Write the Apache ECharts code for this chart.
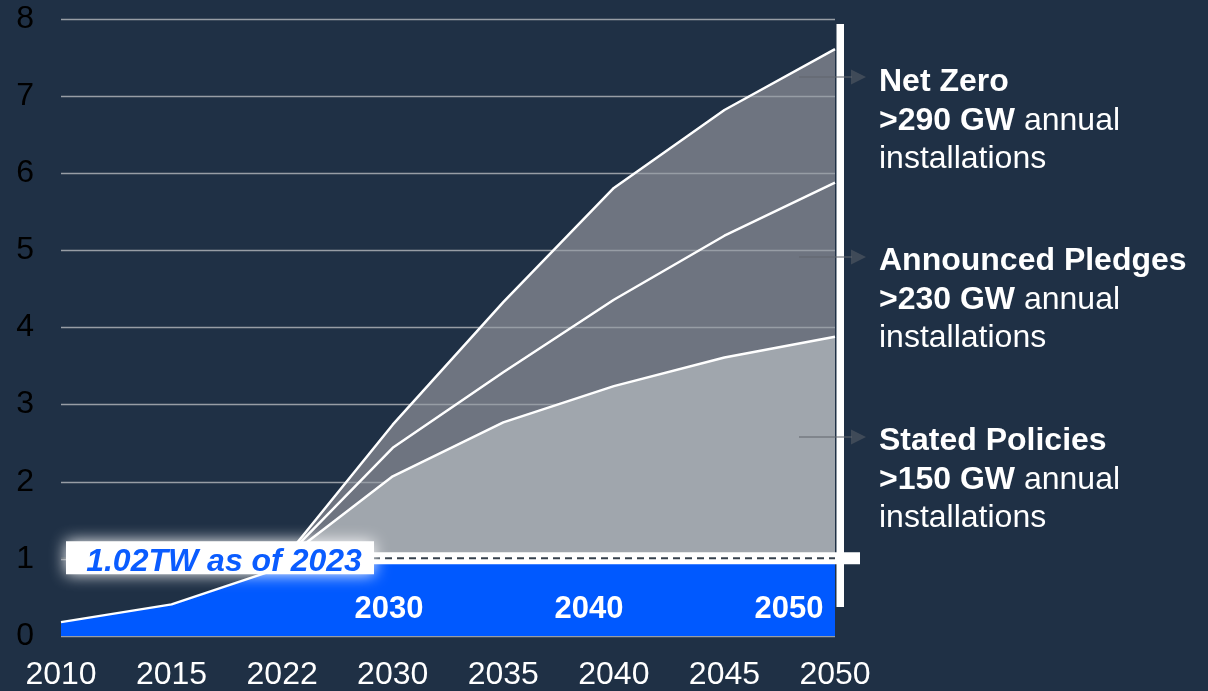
<!DOCTYPE html>
<html>
<head>
<meta charset="utf-8">
<title>Solar PV capacity scenarios</title>
<script src="https://cdn.jsdelivr.net/npm/echarts@6/dist/echarts.min.js"></script>
<style>
  html, body { margin: 0; padding: 0; background: #1f3045; }
  #chart { width: 1208px; height: 691px; }
</style>
</head>
<body>
<div id="chart"></div>
<script>
// Cumulative installed capacity (TW) by year
const years = ['2010', '2015', '2022', '2030', '2035', '2040', '2045', '2050'];
const installed = [0.18, 0.41, 0.89, 1.02, 1.02, 1.02, 1.02, 1.02];
const statedPolicies = [null, null, 0.97, 2.07, 2.77, 3.24, 3.61, 3.88];
const announcedPledges = [null, null, 0.97, 2.44, 3.42, 4.36, 5.19, 5.88];
const netZero = [null, null, 0.97, 2.74, 4.33, 5.81, 6.82, 7.61];

// Current capacity marker
const currentCapacity = 1.02;
const currentLabel = '1.02TW as of 2023';

// Milestone labels inside the installed band
const milestones = ['2030', '2040', '2050'];

// Scenario annotations (top to bottom)
const scenarioNames = ['Net Zero', 'Announced Pledges', 'Stated Policies'];
const scenarioGW = ['>290 GW', '>230 GW', '>150 GW'];

const FONT = '"Liberation Sans", Arial, Helvetica, sans-serif';
const BG = '#1f3045';
const DARK_GREY = '#6e7480';
const LIGHT_GREY = '#a0a6ad';
const BLUE = '#0059ff';

const chart = echarts.init(document.getElementById('chart'), null, { renderer: 'canvas' });

function areaSeries(name, data, color, z) {
  return {
    name, type: 'line', data, z, silent: true,
    showSymbol: false, symbol: 'none',
    lineStyle: { width: 0 },
    areaStyle: { color, opacity: 1 },
    animation: false
  };
}
function lineSeries(name, data, z) {
  return {
    name, type: 'line', data, z, silent: true,
    showSymbol: false, symbol: 'none',
    lineStyle: { color: '#ffffff', width: 2.5 },
    animation: false
  };
}

const option = {
  backgroundColor: BG,
  animation: false,
  grid: { left: 61, right: 373, top: 19, bottom: 54, containLabel: false },
  xAxis: {
    type: 'category', data: years, boundaryGap: false,
    axisLine: { show: false }, axisTick: { show: false },
    splitLine: { show: false },
    axisLabel: { color: '#ffffff', fontSize: 32, fontFamily: FONT, margin: 23, interval: 0 }
  },
  yAxis: {
    type: 'value', min: 0, max: 8, interval: 1, z: 2,
    axisLine: { show: false }, axisTick: { show: false },
    splitLine: { show: true, lineStyle: { color: '#979da5', width: 1.3 } },
    axisLabel: { color: '#000000', fontSize: 32, fontFamily: FONT, margin: 27 }
  },
  series: [
    areaSeries('Net Zero area', netZero, DARK_GREY, 1),
    areaSeries('Announced Pledges area', announcedPledges, DARK_GREY, 1),
    areaSeries('Stated Policies area', statedPolicies, LIGHT_GREY, 3),
    {
      name: 'Installed', type: 'line', data: installed, z: 4, silent: true,
      showSymbol: false, symbol: 'none',
      lineStyle: { color: '#ffffff', width: 2.5 },
      areaStyle: { color: BLUE, opacity: 1 },
      animation: false
    },
    lineSeries('Net Zero', netZero, 5),
    lineSeries('Announced Pledges', announcedPledges, 5),
    lineSeries('Stated Policies', statedPolicies, 5)
  ]
};

chart.setOption(option);

// Overlays positioned from the chart's own scales
const toPx = (cat, v) => chart.convertToPixel({ gridIndex: 0 }, [cat, v]);
const [xLeft, yNow] = toPx(years[0], currentCapacity);
const [xEnd] = toPx(years[years.length - 1], currentCapacity);
const [, yZero] = toPx(years[0], 0);
const [, yTop] = toPx(years[0], 8);

const boxLeft = xLeft + 5, boxRight = 374;
const graphics = [];

// White vertical bar at the right edge of the plot
graphics.push({
  type: 'rect', z: 100, silent: true,
  shape: { x: xEnd + 1.5, y: yTop + 5, width: 7.5, height: (yZero - 29) - (yTop + 5) },
  style: { fill: '#ffffff' }
});

// White band along the current-capacity level
graphics.push({
  type: 'rect', z: 101, silent: true,
  shape: { x: boxRight - 2, y: yNow - 5, width: (xEnd + 25) - (boxRight - 2), height: 12 },
  style: { fill: '#ffffff' }
});
graphics.push({
  type: 'line', z: 102, silent: true,
  shape: { x1: xLeft, y1: yNow + 1, x2: xEnd, y2: yNow + 1 },
  style: { stroke: '#36414d', lineWidth: 2, lineDash: [7, 5] }
});

// Soft-edged label box for the current capacity
graphics.push({
  type: 'rect', z: 103, silent: true,
  shape: { x: boxLeft, y: yNow - 16, width: boxRight - boxLeft, height: 33 },
  style: { fill: '#ffffff', shadowBlur: 16, shadowColor: 'rgba(255,255,255,1)' }
});
graphics.push({
  type: 'text', z: 104, silent: true,
  x: (boxLeft + boxRight) / 2 + 4, y: yNow + 5,
  style: {
    text: currentLabel, fill: '#0a5cff',
    font: 'italic bold 32px ' + FONT,
    align: 'center', verticalAlign: 'middle'
  }
});

// Milestone labels in the installed band
milestones.forEach((m, i) => {
  graphics.push({
    type: 'text', z: 104, silent: true,
    x: 389 + i * 200, y: 609,
    style: {
      text: m, fill: '#ffffff', font: 'bold 31px ' + FONT,
      align: 'center', verticalAlign: 'middle'
    }
  });
});

// Scenario annotations with pointer arrows
const arrowY = [77, 257, 437];
const textTop = [63, 242, 422];
scenarioNames.forEach((name, i) => {
  const y = arrowY[i];
  graphics.push({
    type: 'line', z: 105, silent: true,
    shape: { x1: 799, y1: y, x2: 852, y2: y },
    style: { stroke: 'rgba(95,100,108,0.5)', lineWidth: 2 }
  });
  graphics.push({
    type: 'polygon', z: 105, silent: true,
    shape: { points: [[851, y - 7.5], [866, y], [851, y + 7.5]] },
    style: { fill: 'rgba(95,100,108,0.5)' }
  });
  graphics.push({
    type: 'text', z: 105, silent: true,
    x: 879, y: textTop[i],
    style: {
      text: '{b|' + name + '}\n{b|' + scenarioGW[i] + '}{r| annual}\n{r|installations}',
      verticalAlign: 'top', align: 'left',
      rich: {
        b: { fill: '#ffffff', fontSize: 32, fontWeight: 'bold', fontFamily: FONT, lineHeight: 38.5 },
        r: { fill: '#ffffff', fontSize: 32, fontWeight: 'normal', fontFamily: FONT, lineHeight: 38.5 }
      }
    }
  });
});

chart.setOption({ graphic: { elements: graphics } });
</script>
</body>
</html>
